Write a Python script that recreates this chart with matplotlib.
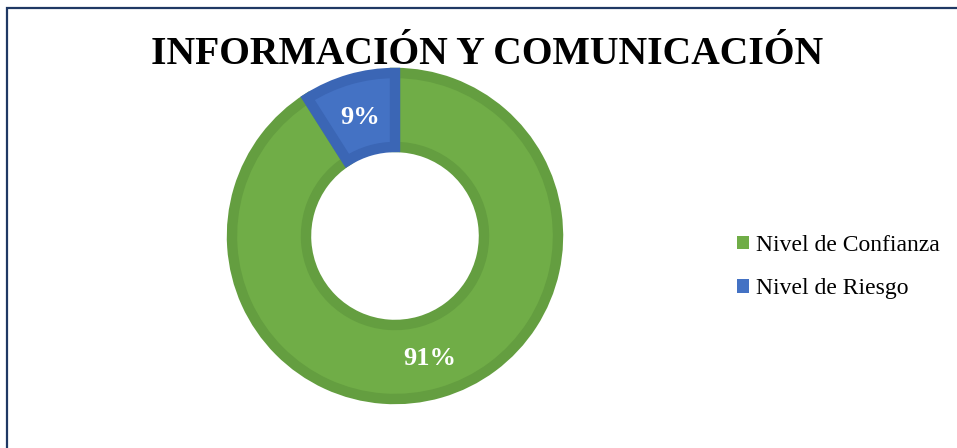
import matplotlib
matplotlib.use("Agg")
import matplotlib.pyplot as plt
from matplotlib.patches import Rectangle
import numpy as np

title = "INFORMACIÓN Y COMUNICACIÓN"
categories = ["Nivel de Confianza", "Nivel de Riesgo"]
values = [91, 9]
labels = ["91%", "9%"]
face_colors = ["#70AD47", "#4472C4"]
edge_colors = ["#649E40", "#3B66B5"]

W, H = 957, 448
fig = plt.figure(figsize=(W / 100, H / 100), dpi=100)
fig.patch.set_facecolor("white")

# outer border (right/bottom beyond picture)
fig.patches.append(Rectangle((7 / W, -0.1), 1.2, (H - 8) / H + 0.1,
                             transform=fig.transFigure, fill=False,
                             edgecolor="#1F3864", linewidth=1.6))

cx, cy, half = 395, 236, 200
ax = fig.add_axes([(cx - half) / W, (H - cy - half) / H, 2 * half / W, 2 * half / H])
ax.set_aspect("equal")
ax.axis("off")

R = 163
inner = 89
wedges, _ = ax.pie(values, radius=R, startangle=90, counterclock=False,
                   colors=face_colors,
                   wedgeprops=dict(width=R - inner, linewidth=7.5))
for w, ec in zip(wedges, edge_colors):
    w.set_edgecolor(ec)
ax.set_xlim(-half, half)
ax.set_ylim(-half, half)

start = 90.0
total = sum(values)
for v, lab in zip(values, labels):
    mid = start - v / total * 360 / 2
    r = 125
    ax.text(r * np.cos(np.radians(mid)), r * np.sin(np.radians(mid)) - 2, lab,
            ha="center", va="center", color="white", fontsize=19,
            fontweight="bold", family="Liberation Serif")
    start -= v / total * 360

fig.text(487 / W, 1 - 54 / H, title, ha="center", va="center",
         fontsize=28.5, fontweight="bold", family="Liberation Serif", color="black")

leg = fig.legend(wedges, categories, loc="center left",
                 bbox_to_anchor=(716 / W, 1 - 267 / H),
                 frameon=False, prop=dict(family="Liberation Serif", size=17),
                 handlelength=0.5, handleheight=0.5, handletextpad=0.3,
                 labelspacing=0.95)
for h, c in zip(leg.legend_handles, face_colors):
    h.set_edgecolor(c)
    h.set_linewidth(0)

fig.savefig("out.png", dpi=100, facecolor="white")
